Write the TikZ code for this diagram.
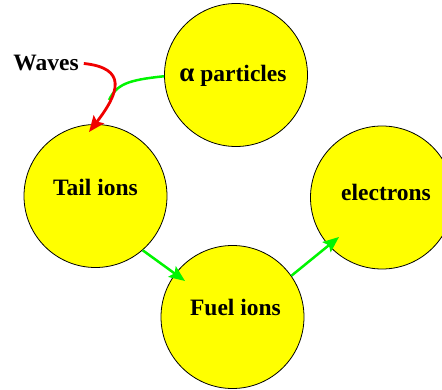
\documentclass[tikz,border=0pt]{standalone}
\usepackage{fontspec}
\setmainfont{Liberation Serif}
\usetikzlibrary{arrows.meta}
\definecolor{grn}{RGB}{0,245,0}
\definecolor{rd}{RGB}{240,0,0}
\definecolor{yel}{RGB}{255,255,0}
\begin{document}
\begin{tikzpicture}[x=1pt,y=-1pt,
  ball/.style={circle,draw=black,line width=0.8pt,fill=yel,minimum size=143pt,inner sep=0pt},
  lbl/.style={font=\fontsize{23.5}{28}\selectfont\bfseries,inner sep=0pt,anchor=base},
  tip/.style={-{Stealth[length=16pt,width=13pt,inset=3pt]}},
  flow/.style={draw=grn,line width=2.5pt,tip},
  feed/.style={draw=grn,line width=2.5pt},
  wavearrow/.style={draw=rd,line width=2.8pt,tip}]
\useasboundingbox (0,0) rectangle (442,390);
\clip (0,0) rectangle (442,390);
% circles
\node[ball] (alpha) at (236,75) {};
\node[ball] (tail) at (95.5,196) {};
\node[ball] (fuel) at (232.5,317) {};
\node[ball] (elec) at (382,197.5) {};
% texts
\node[lbl] (alphat) at (233,82) {{\fontsize{27}{30}\selectfont α} particles};
\node[lbl] (tailt) at (95.5,196) {Tail ions};
\node[lbl] (fuelt) at (235.5,316) {Fuel ions};
\node[lbl] (elect) at (386,200.5) {electrons};
\node[lbl] (waves) at (46,71) {Waves};
% helper coordinates
\coordinate (join) at (109,100);
\coordinate (wt) at (89,132);
\coordinate (ft) at (185,281);
\coordinate (et) at (339,237);
% connectors
\draw[feed] (alpha.181) .. controls (128,80) and (117,84) .. (join);
\draw[wavearrow] ([xshift=5pt]waves.east) .. controls (127,68) and (120,92) .. (wt);
\draw[flow] (tail.-49) -- (ft);
\draw[flow] (fuel.35) -- (et);
\end{tikzpicture}
\end{document}
